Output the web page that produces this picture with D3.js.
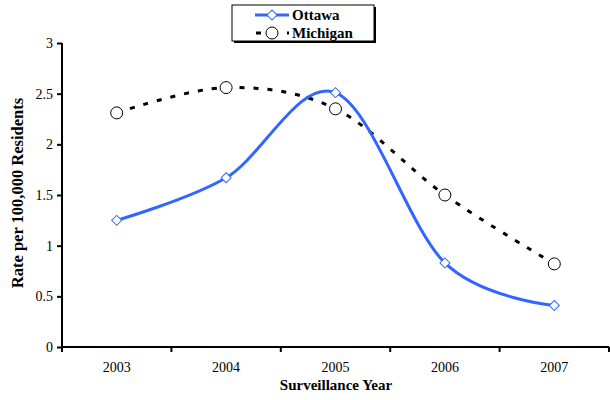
<!DOCTYPE html>
<html><head><meta charset="utf-8">
<script src="https://cdn.jsdelivr.net/npm/d3@7"></script>
<style>body{margin:0;background:#fff}svg{display:block}</style>
</head><body><svg id="c" width="610" height="400"></svg>
<script>
const years = ["2003","2004","2005","2006","2007"];
const ottawa = [1.25, 1.67, 2.51, 0.83, 0.41];
const michigan = [2.31, 2.56, 2.35, 1.50, 0.82];
const yTicks = [0, 0.5, 1, 1.5, 2, 2.5, 3];
const FONT = "'Liberation Serif', 'Times New Roman', Times, 'DejaVu Serif', serif";

const svg = d3.select("#c");
const x = d3.scaleBand().domain(years).range([62, 609]);
const y = d3.scaleLinear().domain([0, 3]).range([347, 43]);
const cx = d => x(d) + x.bandwidth() / 2;

// y axis
const ya = svg.append("g").attr("transform", "translate(62,0)")
  .call(d3.axisLeft(y).tickValues(yTicks).tickSize(5).tickPadding(4).tickFormat(d3.format("")));
ya.attr("font-family", null);
ya.select(".domain").attr("stroke", "#000").attr("stroke-width", 2).attr("d", "M0,43V347");
ya.selectAll(".tick line").attr("stroke", "#000").attr("stroke-width", 2);
ya.selectAll(".tick text").attr("font-size", 14).attr("fill", "#000");

// x axis
const xa = svg.append("g").attr("transform", "translate(0,347)")
  .call(d3.axisBottom(x).tickSize(0).tickPadding(15));
xa.attr("font-family", null);
xa.select(".domain").attr("stroke", "#000").attr("stroke-width", 2).attr("d", "M62,0H609");
xa.selectAll(".tick text").attr("font-size", 14).attr("fill", "#000");
const edges = years.map(d => x(d)).concat([x(years[years.length-1]) + x.bandwidth()]);
xa.selectAll(".edge").data(edges).enter().append("line")
  .attr("x1", d => d).attr("x2", d => d).attr("y1", 0).attr("y2", 5)
  .attr("stroke", "#000").attr("stroke-width", 2);

// titles
svg.append("text").attr("x", 336).attr("y", 390).attr("text-anchor", "middle")
  .attr("font-size", 15).attr("font-weight", "bold").text("Surveillance Year");
svg.append("text").attr("transform", "translate(23,193) rotate(-90)").attr("text-anchor", "middle")
  .attr("font-size", 16.5).attr("font-weight", "bold").text("Rate per 100,000 Residents");

const line = d3.line().curve(d3.curveCardinal.tension(0)).x((d, i) => cx(years[i])).y(d => y(d));

svg.append("path").datum(michigan).attr("d", line).attr("fill", "none")
  .attr("stroke", "#000").attr("stroke-width", 3).attr("stroke-dasharray", "5,9");
svg.append("path").datum(ottawa).attr("d", line).attr("fill", "none")
  .attr("stroke", "#3366ff").attr("stroke-width", 3);

const diamond = d3.symbol().type(d3.symbolSquare).size(50);
svg.selectAll(".mo").data(ottawa).enter().append("path")
  .attr("d", diamond)
  .attr("transform", (d, i) => `translate(${cx(years[i])},${y(d)}) rotate(45)`)
  .attr("fill", "#fff").attr("stroke", "#3366ff").attr("stroke-width", 1);
svg.selectAll(".mm").data(michigan).enter().append("circle")
  .attr("cx", (d, i) => cx(years[i])).attr("cy", d => y(d)).attr("r", 6)
  .attr("fill", "#fff").attr("stroke", "#000").attr("stroke-width", 1);

// legend
const lg = svg.append("g");
lg.append("rect").attr("x", 234).attr("y", 7).attr("width", 142).attr("height", 36).attr("fill", "#000");
lg.append("rect").attr("x", 232).attr("y", 5).attr("width", 142).attr("height", 36)
  .attr("fill", "#fff").attr("stroke", "#000").attr("stroke-width", 1);
lg.append("line").attr("x1", 255).attr("x2", 289).attr("y1", 15).attr("y2", 15)
  .attr("stroke", "#3366ff").attr("stroke-width", 3);
lg.append("path").attr("d", diamond).attr("transform", "translate(272,15) rotate(45)")
  .attr("fill", "#fff").attr("stroke", "#3366ff").attr("stroke-width", 1);
lg.append("line").attr("x1", 256).attr("x2", 261).attr("y1", 33).attr("y2", 33)
  .attr("stroke", "#000").attr("stroke-width", 3);
lg.append("line").attr("x1", 287).attr("x2", 289).attr("y1", 33).attr("y2", 33)
  .attr("stroke", "#000").attr("stroke-width", 3);
lg.append("circle").attr("cx", 272).attr("cy", 33).attr("r", 6)
  .attr("fill", "#fff").attr("stroke", "#000").attr("stroke-width", 1);
lg.append("text").attr("x", 292).attr("y", 20).attr("font-size", 15).attr("font-weight", "bold").text("Ottawa");
lg.append("text").attr("x", 292).attr("y", 38).attr("font-size", 15).attr("font-weight", "bold").text("Michigan");

svg.selectAll("text").style("font-family", FONT);
</script></body></html>
